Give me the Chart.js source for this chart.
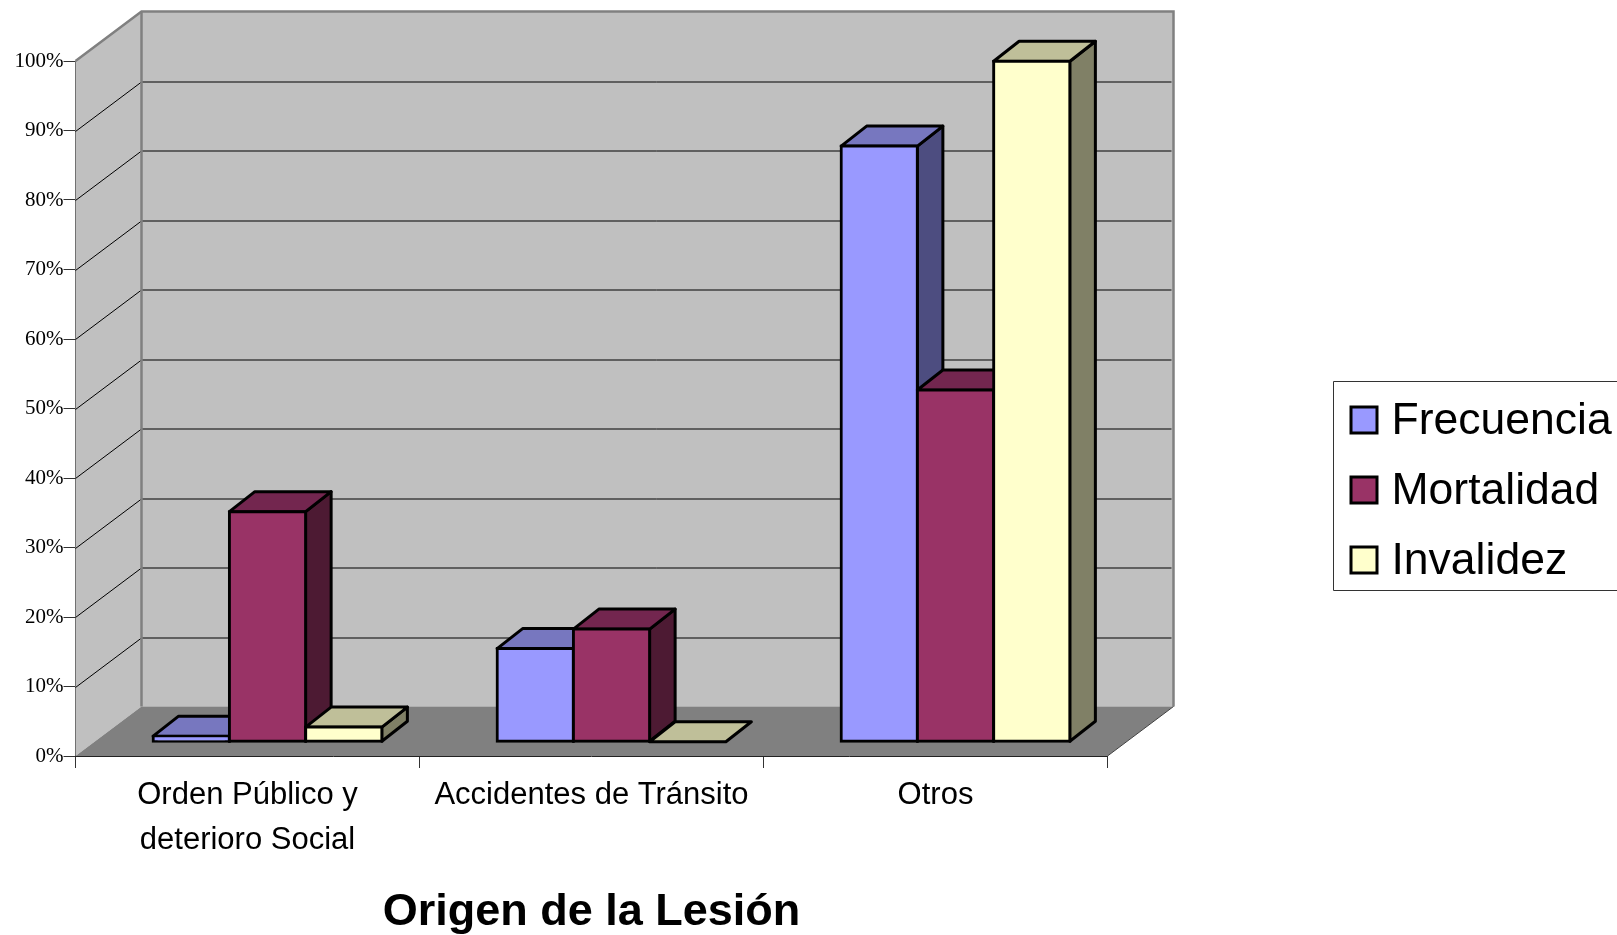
<!DOCTYPE html>
<html><head><meta charset="utf-8">
<style>html,body{margin:0;padding:0;background:#fff;overflow:hidden}canvas{display:block}</style>
<script src="https://cdn.jsdelivr.net/npm/chart.js@4/dist/chart.umd.js"></script>
</head><body><canvas id="c" width="1617" height="935"></canvas>
<script>
const categories = [['Orden Público y','deterioro Social'],'Accidentes de Tránsito','Otros'];
const frecuencia = [0.8, 13.4, 85.7];
const mortalidad = [33.1, 16.2, 50.6];
const invalidez = [2.1, 0, 97.9];
const axisTitle = 'Origen de la Lesión';
const colors = {Frecuencia:['#9999FF','#7777BF','#4D4D80'],Mortalidad:['#993366','#73264F','#4D1A33'],Invalidez:['#FFFFCC','#BFBF99','#808066']};

const WALL = {dx:66, dy:49.5};
const BAR = {ox:20, oy:14.3, dx:25.5, dy:20};
const LINE = '#000';
const LW = 3;

function poly(ctx, pts, fill, stroke, lw){
  ctx.beginPath();
  pts.forEach((p,i)=> i?ctx.lineTo(p[0],p[1]):ctx.moveTo(p[0],p[1]));
  ctx.closePath();
  if(fill){ctx.fillStyle=fill;ctx.fill();}
  if(stroke){ctx.strokeStyle=stroke;ctx.lineWidth=lw;ctx.lineJoin='round';ctx.stroke();}
}
const scene = {
  id:'scene',
  beforeDatasetsDraw(chart){
    const {ctx, chartArea:a, scales:{y}} = chart;
    const {dx,dy}=WALL, l=a.left, r=a.right, t=a.top, b=a.bottom;
    ctx.save();
    poly(ctx,[[l+dx,t-dy],[r+dx,t-dy],[r+dx,b-dy],[l+dx,b-dy]],'#C0C0C0');
    poly(ctx,[[l,t],[l+dx,t-dy],[l+dx,b-dy],[l,b]],'#C0C0C0');
    poly(ctx,[[l,b],[r,b],[r+dx,b-dy],[l+dx,b-dy]],'#808080');
    ctx.strokeStyle='#000';ctx.lineWidth=1;
    y.ticks.forEach(tk=>{
      if(tk.value===0||tk.value===100)return;
      const p=Math.round(y.getPixelForValue(tk.value))+.5;
      ctx.beginPath();ctx.moveTo(l,p);ctx.lineTo(l+dx,p-dy);ctx.lineTo(r+dx-2,p-dy);ctx.stroke();
    });
    ctx.strokeStyle='#808080';ctx.lineWidth=2.5;ctx.lineJoin='miter';
    ctx.beginPath();ctx.moveTo(l,t);ctx.lineTo(l+dx,t-dy);ctx.lineTo(r+dx,t-dy);ctx.lineTo(r+dx,b-dy);ctx.stroke();
    ctx.beginPath();ctx.moveTo(l+dx,t-dy);ctx.lineTo(l+dx,b-dy);ctx.stroke();
    ctx.strokeStyle='#444';ctx.lineWidth=1;
    ctx.beginPath();ctx.moveTo(r,b);ctx.lineTo(r+dx,b-dy);ctx.stroke();
    ctx.restore();

    // Paint the series back to front: left-most first, each over its neighbour's side face.
    chart.data.datasets.forEach((ds,i)=>{
      const meta=chart.getDatasetMeta(i), c=colors[ds.label];
      ctx.save();
      ctx.translate(BAR.ox,-BAR.oy);
      meta.data.forEach(el=>{
        const {x,y:top,base,width}=el.getProps(['x','y','base','width'],true);
        const L=x-width/2,R=x+width/2,bx=BAR.dx,by=BAR.dy;
        if(base-top>0) poly(ctx,[[R,top],[R+bx,top-by],[R+bx,base-by],[R,base]],c[2],LINE,LW);
        poly(ctx,[[L,top],[L+bx,top-by],[R+bx,top-by],[R,top]],c[1],LINE,LW);
      });
      meta.controller.draw();
      ctx.restore();
    });
    return false;
  },
  afterDraw(chart){
    const {ctx}=chart;
    ctx.save();
    ctx.strokeStyle='#333';ctx.lineWidth=1;
    ctx.beginPath();ctx.moveTo(1700,381.5);ctx.lineTo(1333.5,381.5);ctx.lineTo(1333.5,590.5);ctx.lineTo(1700,590.5);ctx.stroke();
    ctx.font='44.5px "Liberation Sans"';ctx.textBaseline='middle';ctx.textAlign='left';
    chart.data.datasets.forEach((ds,i)=>{
      const yy=420.5+i*70;
      ctx.fillStyle=ds.backgroundColor;ctx.strokeStyle='#000';ctx.lineWidth=3;
      ctx.beginPath();ctx.rect(1351,yy-13.5,26,26);ctx.fill();ctx.stroke();
      ctx.fillStyle='#000';ctx.fillText(ds.label,1391.5,yy+1);
    });
    ctx.restore();
  }
};
function mk(label,data){
  return {label,data,backgroundColor:colors[label][0],borderColor:'#000',borderWidth:LW,borderSkipped:false,clip:false,inflateAmount:1.5,
          categoryPercentage:0.665,barPercentage:1};
}
new Chart(document.getElementById('c'),{
  type:'bar',
  data:{labels:categories,datasets:[mk('Frecuencia',frecuencia),mk('Mortalidad',mortalidad),mk('Invalidez',invalidez)]},
  plugins:[scene],
  options:{
    responsive:false,animation:false,
    layout:{padding:{top:61,right:509.5,left:0,bottom:0}},
    plugins:{legend:{display:false},tooltip:{enabled:false},title:{display:false}},
    scales:{
      x:{
        grid:{drawOnChartArea:false,tickLength:12,tickColor:'#333',offset:true},
        border:{color:'#222',width:1},
        ticks:{font:{family:'"Liberation Sans"',size:31,lineHeight:1.45},color:'#000',maxRotation:0,autoSkip:false,padding:5},
        title:{display:true,text:axisTitle,font:{family:'"Liberation Sans"',size:45,weight:'bold'},color:'#000',padding:{top:0,bottom:-5}},
        afterFit(s){s.height=179;}
      },
      y:{
        min:0,max:100,
        grid:{drawOnChartArea:false,tickLength:12,tickColor:'#333'},
        border:{color:'#222',width:1},
        ticks:{stepSize:10,font:{family:'"Liberation Serif"',size:21},color:'#000',padding:0,callback:v=>v+'%'},
        afterFit(s){s.width=75.5;}
      }
    }
  }
});
</script></body></html>
